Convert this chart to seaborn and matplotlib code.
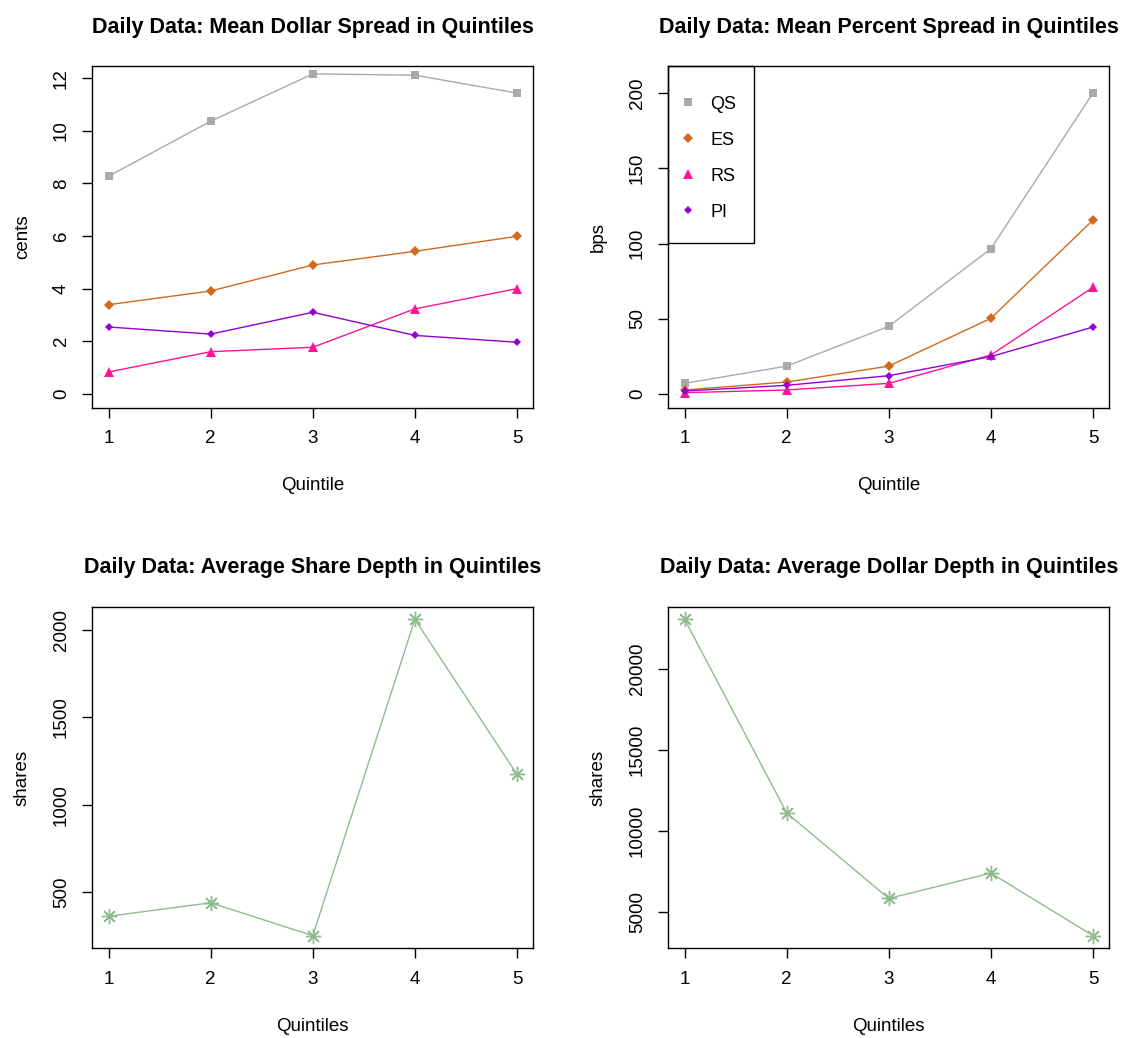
import matplotlib
matplotlib.use("Agg")
import matplotlib.pyplot as plt
from matplotlib.patches import Rectangle
import seaborn as sns
import pandas as pd

# ---- data ----
quintiles = [1, 2, 3, 4, 5]
series_names = ["QS", "ES", "RS", "PI"]
dollar_QS = [8.28, 10.37, 12.17, 12.12, 11.44]
dollar_ES = [3.39, 3.91, 4.90, 5.42, 5.99]
dollar_RS = [0.83, 1.60, 1.77, 3.23, 4.00]
dollar_PI = [2.54, 2.27, 3.10, 2.22, 1.96]
pct_QS = [6.9, 18.4, 44.9, 96.5, 200.2]
pct_ES = [2.5, 7.8, 18.4, 50.2, 115.6]
pct_RS = [0.7, 2.5, 6.9, 25.8, 70.8]
pct_PI = [1.8, 5.6, 12.0, 24.7, 44.4]
share_depth = [362, 439, 251, 2061, 1174]
dollar_depth = [23028, 11112, 5847, 7410, 3560]

titles = ["Daily Data: Mean Dollar Spread in Quintiles",
          "Daily Data: Mean Percent Spread in Quintiles",
          "Daily Data: Average Share Depth in Quintiles",
          "Daily Data: Average Dollar Depth in Quintiles"]

colors = {"QS": "#A9A9A9", "ES": "#D2691E", "RS": "#FF1493", "PI": "#9400D3"}
markers = {"QS": "s", "ES": "D", "RS": "^", "PI": "D"}
msizes = {"QS": 6.0, "ES": 5.0, "RS": 7.0, "PI": 3.8}
green = "#8FBC8F"

sns.set_style("white")
plt.rcParams["font.family"] = ["Liberation Sans", "DejaVu Sans"]
plt.rcParams["text.color"] = "black"
plt.rcParams["axes.labelcolor"] = "black"
plt.rcParams["xtick.color"] = "black"
plt.rcParams["ytick.color"] = "black"

fig = plt.figure(figsize=(11.21, 10.38), dpi=100)
W, H = 1121, 1038

def make_ax(left, top, right, bottom):
    return fig.add_axes([left / W, 1 - bottom / H, (right - left) / W, (bottom - top) / H])

axes = [make_ax(92.3, 66, 533.3, 407.7), make_ax(668.3, 66, 1109.3, 407.7),
        make_ax(92.3, 606.7, 533.3, 948.3), make_ax(668.3, 606.7, 1109.3, 948.3)]

def style(ax, title, xlabel, ylabel):
    for sp in ax.spines.values():
        sp.set_visible(True)
        sp.set_color("black")
        sp.set_linewidth(1.0)
    ax.set_xticks(quintiles)
    ax.set_xlim(0.84, 5.16)
    ax.tick_params(axis="both", direction="out", length=7, width=1, color="black",
                   labelsize=13.5, pad=9, labelcolor="black", bottom=True, left=True)
    ax.set_title(title, fontsize=15.5, fontweight="bold", pad=24, color="black")
    ax.set_xlabel(xlabel, fontsize=13.5, labelpad=22, color="black")
    ax.set_ylabel(ylabel, fontsize=13.5, labelpad=16, color="black")
    ax.grid(False)

def rotate_y(ax):
    for lab in ax.get_yticklabels():
        lab.set_rotation(90)
        lab.set_va("center")

dollar = {"QS": dollar_QS, "ES": dollar_ES, "RS": dollar_RS, "PI": dollar_PI}
pct = {"QS": pct_QS, "ES": pct_ES, "RS": pct_RS, "PI": pct_PI}

for ax, data in [(axes[0], dollar), (axes[1], pct)]:
    for name in series_names:
        df = pd.DataFrame({"q": quintiles, "v": data[name]})
        sns.lineplot(data=df, x="q", y="v", ax=ax, color=colors[name],
                     marker=markers[name], markersize=msizes[name],
                     markeredgewidth=0, linewidth=1.0, errorbar=None,
                     sort=False, label=name)

axes[0].set_ylim(-0.53, 12.47)
axes[0].set_yticks([0, 2, 4, 6, 8, 10, 12])
axes[0].get_legend().remove()
style(axes[0], titles[0], "Quintile", "cents")

axes[1].set_ylim(-9.3, 218.2)
axes[1].set_yticks([0, 50, 100, 150, 200])
style(axes[1], titles[1], "Quintile", "bps")
leg = axes[1].legend(loc="upper left", bbox_to_anchor=(-0.043, 1), fontsize=13,
                     frameon=False, borderaxespad=0, handlelength=1.0,
                     handletextpad=0.72, labelspacing=1.05, borderpad=1.65)
for h in leg.legend_handles:
    h.set_linestyle("none")
axes[1].add_patch(Rectangle((0, 0.482), 0.194, 0.518, transform=axes[1].transAxes,
                            fill=False, edgecolor="black", linewidth=1.0,
                            clip_on=False, zorder=5))

for ax, vals, ttl in [(axes[2], share_depth, titles[2]), (axes[3], dollar_depth, titles[3])]:
    df = pd.DataFrame({"q": quintiles, "v": vals})
    sns.lineplot(data=df, x="q", y="v", ax=ax, color=green, marker=(8, 2, 0),
                 markersize=11, markeredgewidth=1.0, markeredgecolor=green,
                 linewidth=1.0, errorbar=None, sort=False)
    lo, hi = min(vals), max(vals)
    r = hi - lo
    ax.set_ylim(lo - 0.04 * r, hi + 0.04 * r)
    style(ax, ttl, "Quintiles", "shares")

axes[2].set_yticks([500, 1000, 1500, 2000])
axes[3].set_yticks([5000, 10000, 15000, 20000])
for ax in axes:
    rotate_y(ax)

fig.savefig("out.png", dpi=100, facecolor="white")
